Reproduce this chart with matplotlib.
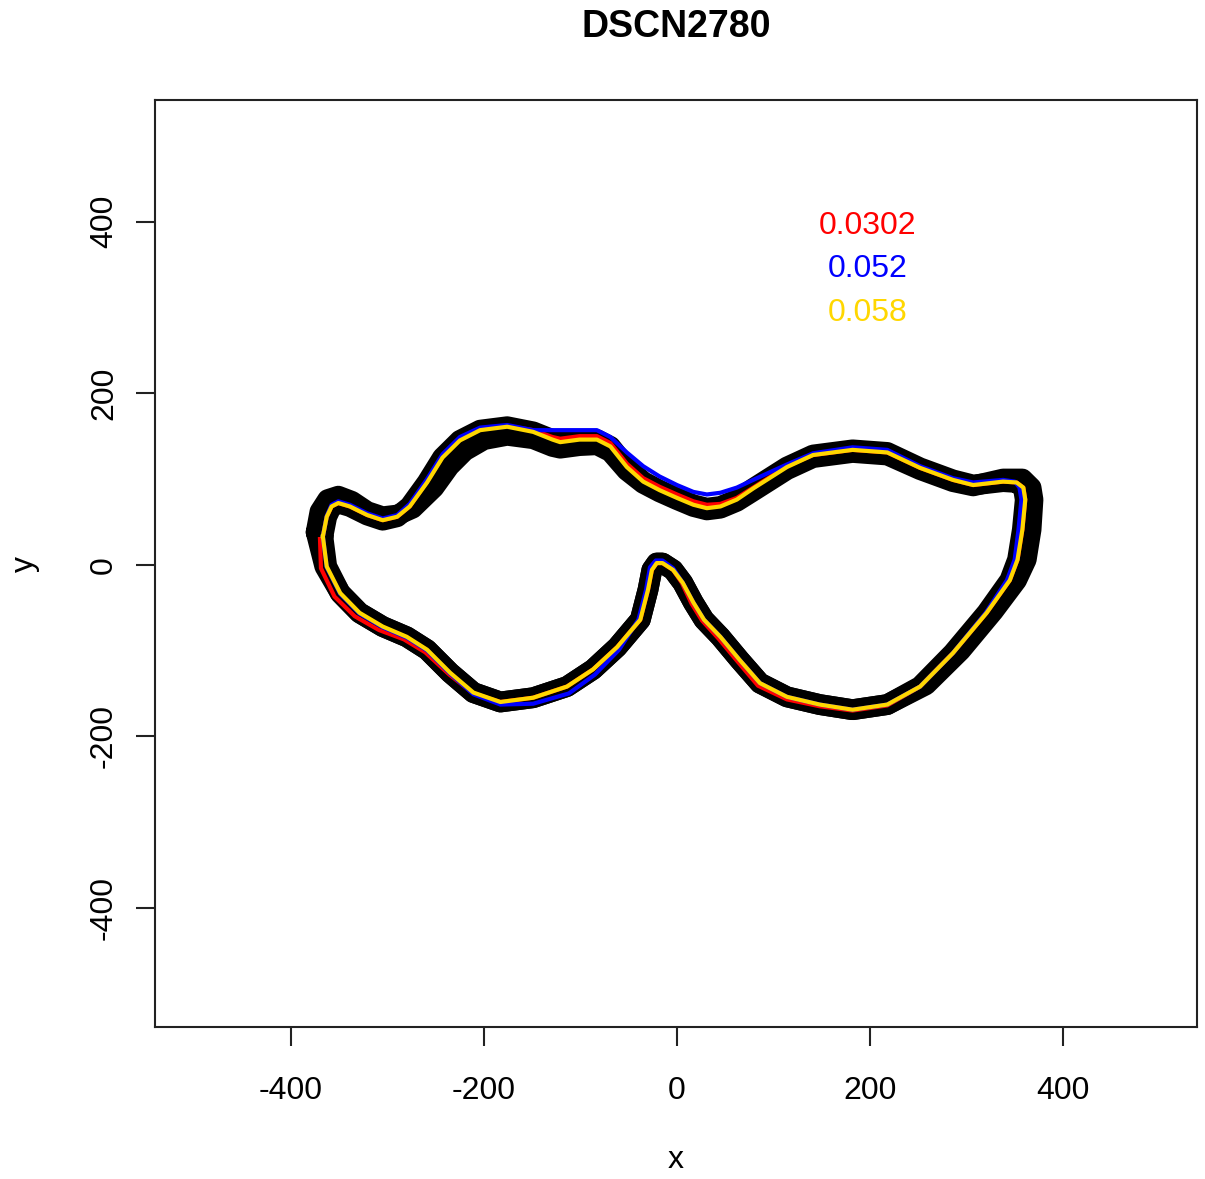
import matplotlib
matplotlib.use("Agg")
import matplotlib.pyplot as plt

plt.rcParams['font.family'] = ['Liberation Sans', 'DejaVu Sans']
plt.rcParams['axes.unicode_minus'] = False

# outline (yellow line)
outline_x = [-367, -363, -358, -351, -339, -321, -305, -290, -277, -259, -243, -225, -204, -176, -149,
             -129, -121, -101, -83, -69, -52, -35, -18, 0, 17, 31, 45, 62, 79, 114, 141, 182, 218,
             252, 286, 307, 338, 352, 359, 361, 358, 353, 345, 321, 286, 252, 218, 182, 148, 114,
             86, 65, 45, 28, 17, 6, -4, -15, -21, -26, -30, -38, -62, -87, -114, -149, -183, -211,
             -235, -259, -280, -305, -329, -349, -363, -367]
outline_y = [33, 56, 68, 72, 68, 58, 52, 56, 68, 96, 125, 145, 157, 161, 155,
             146, 143, 146, 146, 138, 114, 97, 87, 78, 70, 66, 68, 76, 89, 114, 128, 134, 131,
             113, 99, 93, 97, 96, 90, 76, 41, 6, -18, -56, -103, -142, -163, -169, -163, -154,
             -138, -111, -84, -64, -44, -21, -6, 2, 2, -6, -29, -64, -96, -122, -142, -155, -160, -149,
             -126, -99, -84, -72, -56, -33, -2, 33]

# blue line
blue_x = [-367, -363, -358, -351, -339, -321, -305, -290, -277, -259, -243, -225, -204, -176, -149,
          -129, -121, -101, -83, -69, -52, -35, -18, 0, 17, 31, 45, 62, 79, 114, 141, 182, 218,
          252, 286, 307, 338, 350, 355, 357, 354, 350, 342, 320, 286, 252, 218, 182, 148, 114,
          86, 65, 45, 28, 17, 6, -4, -15, -22, -28, -32, -40, -60, -85, -112, -149, -183, -211,
          -235, -259, -280, -305, -329, -349, -363, -367]
blue_y = [33, 57, 70, 74, 70, 60, 54, 58, 71, 100, 129, 149, 160, 163, 157,
          157, 157, 157, 157, 149, 131, 115, 103, 93, 85, 82, 84, 90, 99, 117, 130, 137, 134,
          115, 101, 96, 99, 97, 90, 76, 41, 6, -18, -56, -103, -142, -163, -169, -163, -154,
          -138, -111, -84, -64, -44, -21, -4, 5, 5, -3, -29, -64, -99, -128, -150, -162, -163, -151,
          -127, -100, -85, -73, -57, -34, -3, 33]

# red line
red_x = [-367, -363, -358, -351, -339, -321, -305, -290, -277, -259, -243, -225, -204, -176, -149,
         -129, -121, -101, -83, -69, -52, -35, -18, 0, 17, 31, 45, 62, 79, 114, 141, 182, 218,
         252, 286, 307, 338, 352, 359, 361, 358, 353, 345, 321, 286, 252, 218, 182, 148, 114,
         84, 63, 43, 26, 15, 5, -4, -15, -21, -26, -30, -38, -62, -87, -114, -149, -183, -211,
         -236, -261, -283, -309, -334, -355, -369, -370]
red_y = [33, 56, 68, 72, 68, 58, 52, 56, 68, 97, 126, 146, 158, 162, 157,
         149, 147, 150, 150, 142, 118, 101, 91, 82, 74, 70, 71, 78, 90, 115, 128, 134, 131,
         113, 99, 93, 97, 96, 90, 76, 41, 6, -18, -56, -103, -142, -164, -170, -165, -157,
         -141, -113, -86, -65, -45, -21, -6, 2, 2, -6, -29, -64, -96, -122, -142, -155, -160, -150,
         -128, -102, -87, -76, -60, -37, -4, 30]

# second black outline, where the black band spreads wider
black_x = [-374, -370, -362, -351, -337, -321, -305, -290, -274, -252, -236, -220, -200, -176, -149,
           -129, -121, -101, -83, -69, -52, -35, -18, 0, 17, 31, 45, 62, 79, 114, 141, 182, 218,
           252, 286, 307, 338, 358, 367, 369, 367, 362, 352, 328, 294, 258, 218, 182, 148, 114,
           86, 65, 45, 28, 17, 6, -4, -15, -21, -26, -30, -38, -62, -87, -114, -149, -183, -211,
           -235, -259, -280, -305, -329, -349, -365, -374]
black_y = [38, 62, 76, 80, 74, 62, 56, 58, 66, 90, 115, 133, 146, 151, 147,
           138, 136, 139, 140, 132, 110, 95, 85, 76, 68, 64, 66, 74, 86, 111, 125, 131, 128,
           111, 97, 92, 100, 100, 90, 76, 41, 6, -18, -54, -100, -140, -163, -169, -163, -154,
           -138, -111, -84, -64, -44, -21, -6, 2, 2, -6, -29, -64, -96, -122, -142, -155, -160, -149,
           -126, -99, -84, -72, -56, -33, -2, 38]

scores = ["0.0302", "0.052", "0.058"]
score_colors = ["#FF0000", "#0000FF", "#FFD700"]
score_x = 198
score_y = [395, 345, 294]

fig = plt.figure(figsize=(12.05, 11.79), dpi=100)
ax = fig.add_axes([155 / 1205, 1 - 1027 / 1179, 1042 / 1205, 927 / 1179])

ax.plot(outline_x, outline_y, color="black", lw=15, solid_joinstyle="round", solid_capstyle="round")
ax.plot(black_x, black_y, color="black", lw=15, solid_joinstyle="round", solid_capstyle="round")
ax.plot(red_x, red_y, color="#FF0000", lw=3, solid_joinstyle="round")
ax.plot(blue_x, blue_y, color="#0000FF", lw=3, solid_joinstyle="round")
ax.plot(outline_x, outline_y, color="#FFD700", lw=3, solid_joinstyle="round")

for s, c, yy in zip(scores, score_colors, score_y):
    ax.text(score_x, yy, s, color=c, fontsize=23, ha="center", va="center")

ax.set_xlim(-541, 539)
ax.set_ylim(-539, 542)
ax.set_xticks([-400, -200, 0, 200, 400])
ax.set_yticks([-400, -200, 0, 200, 400])
ax.tick_params(direction="out", length=14, width=1.5, labelsize=23, color="#222222")
ax.tick_params(axis="x", pad=21)
ax.tick_params(axis="y", pad=12, labelrotation=90)
for lab in ax.get_yticklabels():
    lab.set_va("center")
for sp in ax.spines.values():
    sp.set_linewidth(1.5)
    sp.set_color("#222222")

ax.set_xlabel("x", fontsize=23, va="center")
ax.xaxis.set_label_coords(0.5, -133 / 927)
ax.set_ylabel("y", fontsize=23, va="center")
ax.yaxis.set_label_coords(-130 / 1042, 0.5)

fig.text(676 / 1205, 1 - 27 / 1179, "DSCN2780", fontsize=27, fontweight="bold", ha="center", va="center")

fig.savefig("out.png", dpi=100)
